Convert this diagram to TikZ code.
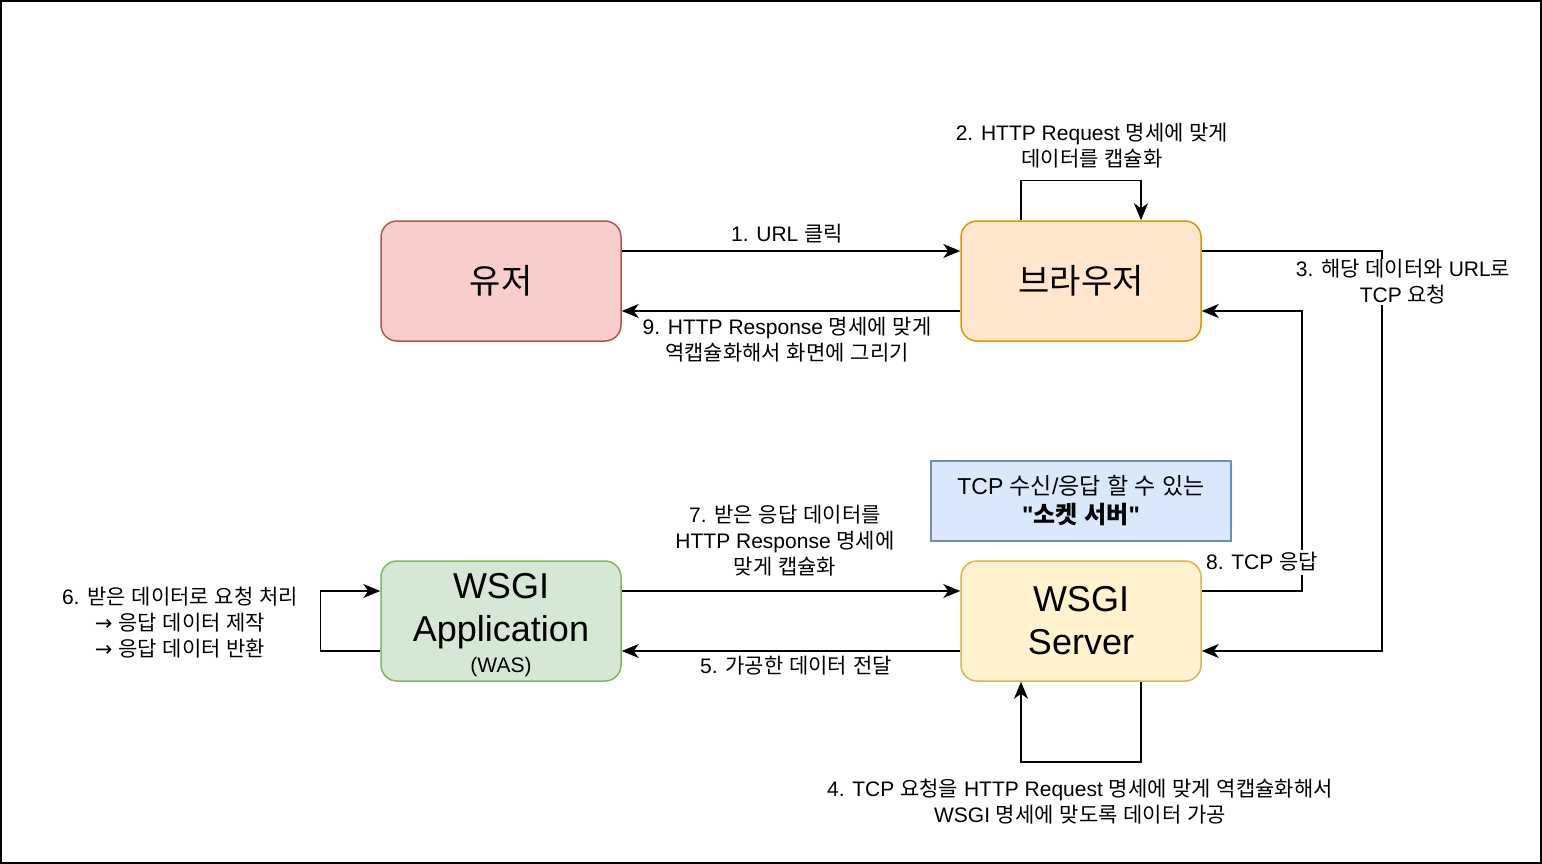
\documentclass[tikz,border=0pt]{standalone}
\usepackage{fontspec}
\setmainfont{Liberation Sans}
\newfontfamily\plainlat{Liberation Sans}
\newfontfamily\krfont{Noto Sans CJK KR}
\newfontfamily\symfont{DejaVu Sans}
% switch to the Korean font for Hangul syllables
\XeTeXinterchartokenstate=1
\newXeTeXintercharclass\krclass
\newcount\hgcode
\hgcode="AC00
\loop
  \XeTeXcharclass\hgcode=\krclass
  \ifnum\hgcode<"D7A3 \advance\hgcode by 1
\repeat
\XeTeXinterchartoks 0 \krclass = {\krfont}
\XeTeXinterchartoks 4095 \krclass = {\krfont}
\XeTeXinterchartoks \krclass 0 = {\rmfamily}
\XeTeXinterchartoks \krclass 4095 = {\rmfamily}
\newcommand{\rarr}{{\symfont →}}
\newcommand{\dq}{{\plainlat"}}
\usetikzlibrary{arrows.meta}
\definecolor{userfill}{HTML}{F8CECC}
\definecolor{userline}{HTML}{B85450}
\definecolor{browserfill}{HTML}{FFE6CC}
\definecolor{browserline}{HTML}{D79B00}
\definecolor{appfill}{HTML}{D5E8D4}
\definecolor{appline}{HTML}{82B366}
\definecolor{serverfill}{HTML}{FFF2CC}
\definecolor{serverline}{HTML}{D6B656}
\definecolor{notefill}{HTML}{DAE8FC}
\definecolor{noteline}{HTML}{6C8EBF}
\tikzset{
  box/.style={draw, line width=1.5pt, rounded corners=16pt, minimum width=240pt, minimum height=120pt, inner sep=0pt, align=center, font=\fontsize{36}{43}\selectfont},
  lbl/.style={align=center, inner sep=1pt, font=\fontsize{21}{26}\selectfont},
  conn/.style={line width=1.5pt, -{Stealth[length=17pt,width=14pt,inset=5pt]}},
}
\begin{document}
\begin{tikzpicture}[x=1pt, y=-1pt]
\useasboundingbox (0,0) rectangle (1542,864);
\draw[line width=2pt] (1,1) rectangle (1541,863);
% boxes
\node[box, fill=userfill, draw=userline, font=\fontsize{34}{42}\selectfont] (user) at (501,281) {유저};
\node[box, fill=browserfill, draw=browserline, font=\fontsize{34}{42}\selectfont] (browser) at (1081,281) {브라우저};
\node[box, fill=appfill, draw=appline] (app) at (501,621) {\rule{0pt}{34pt}WSGI\\Application\\[-12pt]{\fontsize{21}{25}\selectfont (WAS)}};
\node[box, fill=serverfill, draw=serverline] (server) at (1081,621) {WSGI\\Server};
\node[draw=noteline, fill=notefill, line width=1.5pt, minimum width=300pt, minimum height=80pt, align=center, font=\fontsize{23}{29}\selectfont] (note) at (1081,501) {TCP 수신/응답 할 수 있는\\{\fontsize{24}{29}\selectfont\bfseries\dq 소켓 서버\dq}};
% connectors
\draw[conn] ([yshift=30pt]user.east) -- ([yshift=30pt]browser.west);
\draw[conn] ([yshift=-30pt]browser.west) -- ([yshift=-30pt]user.east);
\draw[conn] ([xshift=-60pt]browser.north) |- ([xshift=60pt,yshift=40pt]browser.north) -- ([xshift=60pt]browser.north);
\draw[conn] ([yshift=30pt]browser.east) -- ++(180,0) |- ([yshift=-30pt]server.east);
\draw[conn] ([xshift=60pt]server.south) -- ++(0,80) -| ([xshift=-60pt]server.south);
\draw[conn] ([yshift=-30pt]server.west) -- ([yshift=-30pt]app.east);
\draw[conn] ([yshift=-30pt]app.west) -- ++(-60,0) |- ([yshift=30pt]app.west);
\draw[conn] ([yshift=30pt]app.east) -- ([yshift=30pt]server.west);
\draw[conn] ([yshift=30pt]server.east) -- ++(100,0) |- ([yshift=-30pt]browser.east);
% labels
\node[lbl] (l1) at (787,234) {1. URL 클릭};
\node[lbl] (l2) at (1092,146) {2. HTTP Request 명세에 맞게\\데이터를 캡슐화};
\node[lbl, fill=white] (l3) at (1403,282) {3. 해당 데이터와 URL로\\TCP 요청};
\node[lbl] (l4) at (1080,802) {4. TCP 요청을 HTTP Request 명세에 맞게 역캡슐화해서\\WSGI 명세에 맞도록 데이터 가공};
\node[lbl] (l5) at (796,666) {5. 가공한 데이터 전달};
\node[lbl] (l6) at (180,623) {6. 받은 데이터로 요청 처리\\\rarr\ 응답 데이터 제작\\\rarr\ 응답 데이터 반환};
\node[lbl] (l7) at (785,541) {7. 받은 응답 데이터를\\HTTP Response 명세에\\맞게 캡슐화};
\node[lbl, fill=white, inner sep=3pt] (l8) at (1262,562) {8. TCP 응답};
\node[lbl] (l9) at (787,340) {9. HTTP Response 명세에 맞게\\역캡슐화해서 화면에 그리기};
\end{tikzpicture}
\end{document}
